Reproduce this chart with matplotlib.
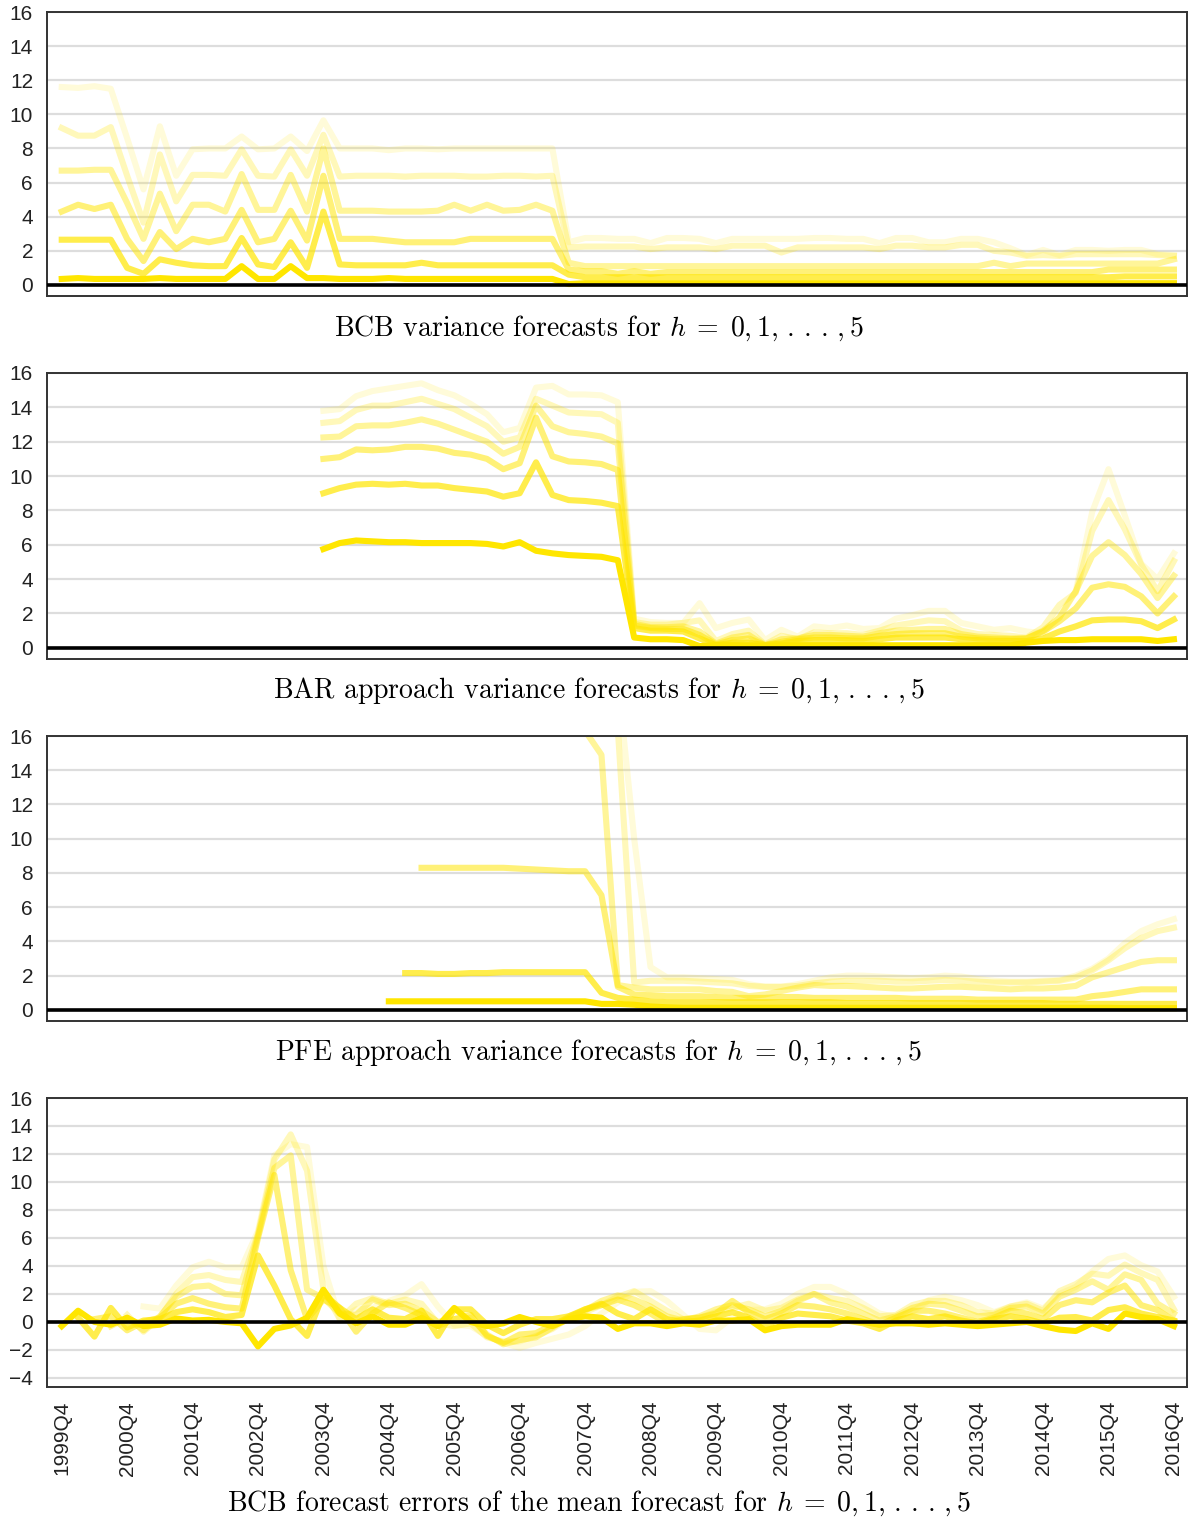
import matplotlib
matplotlib.use("Agg")
import matplotlib.pyplot as plt
import numpy as np

nan = np.nan

# quarters 1999Q4 .. 2016Q4 (69 points), ticks every fourth quarter
tick_labels = ["1999Q4", "2000Q4", "2001Q4", "2002Q4", "2003Q4", "2004Q4",
               "2005Q4", "2006Q4", "2007Q4", "2008Q4", "2009Q4", "2010Q4",
               "2011Q4", "2012Q4", "2013Q4", "2014Q4", "2015Q4", "2016Q4"]
n_q = 69

# ---- panel 1: BCB variance forecasts, h = 0..5
bcb_h0 = [0.35, 0.4, 0.35, 0.35, 0.35, 0.35, 0.4, 0.35, 0.35, 0.35,
          0.35, 1.1, 0.35, 0.35, 1.1, 0.4, 0.4, 0.35, 0.35, 0.35,
          0.4, 0.35, 0.35, 0.35, 0.35, 0.35, 0.35, 0.35, 0.35, 0.35,
          0.35, 0.05, 0.1, 0.1, 0.1, 0.1, 0.1, 0.1, 0.1, 0.1,
          0.1, 0.1, 0.1, 0.1, 0.1, 0.1, 0.1, 0.1, 0.1, 0.1,
          0.1, 0.1, 0.1, 0.1, 0.1, 0.1, 0.1, 0.1, 0.1, 0.1,
          0.1, 0.1, 0.1, 0.1, 0.1, 0.1, 0.1, 0.1, 0.1]
bcb_h1 = [2.65, 2.65, 2.65, 2.65, 1.0, 0.65, 1.5, 1.3, 1.15, 1.1,
          1.1, 2.75, 1.2, 1.05, 2.5, 1.0, 4.3, 1.2, 1.15, 1.15,
          1.15, 1.15, 1.3, 1.15, 1.15, 1.15, 1.15, 1.15, 1.15, 1.15,
          1.15, 0.6, 0.45, 0.45, 0.45, 0.45, 0.45, 0.45, 0.45, 0.45,
          0.45, 0.45, 0.45, 0.45, 0.45, 0.45, 0.45, 0.45, 0.45, 0.45,
          0.45, 0.45, 0.45, 0.45, 0.45, 0.45, 0.45, 0.45, 0.45, 0.45,
          0.45, 0.45, 0.45, 0.45, 0.45, 0.5, 0.5, 0.5, 0.5]
bcb_h2 = [4.3, 4.7, 4.45, 4.7, 2.7, 1.4, 3.1, 2.1, 2.7, 2.5,
          2.7, 4.4, 2.5, 2.7, 4.35, 2.6, 6.4, 2.7, 2.7, 2.7,
          2.6, 2.5, 2.5, 2.5, 2.5, 2.7, 2.7, 2.7, 2.7, 2.7,
          2.7, 0.9, 0.8, 0.8, 0.65, 0.8, 0.65, 0.75, 0.75, 0.75,
          0.75, 0.75, 0.75, 0.75, 0.75, 0.75, 0.75, 0.75, 0.75, 0.75,
          0.75, 0.75, 0.75, 0.75, 0.75, 0.75, 0.75, 0.75, 0.75, 0.75,
          0.75, 0.75, 0.75, 0.75, 0.9, 0.9, 0.9, 0.9, 0.9]
bcb_h3 = [6.7, 6.7, 6.75, 6.75, 4.8, 2.7, 5.35, 3.15, 4.7, 4.7,
          4.3, 6.5, 4.4, 4.4, 6.45, 4.3, 8.0, 4.35, 4.35, 4.35,
          4.3, 4.3, 4.3, 4.35, 4.7, 4.35, 4.7, 4.35, 4.4, 4.7,
          4.35, 1.3, 1.1, 1.1, 1.1, 1.1, 1.1, 1.1, 1.1, 1.1,
          1.1, 1.1, 1.1, 1.1, 1.1, 1.1, 1.1, 1.1, 1.1, 1.1,
          1.1, 1.1, 1.1, 1.1, 1.1, 1.1, 1.1, 1.3, 1.1, 1.25,
          1.25, 1.25, 1.25, 1.25, 1.25, 1.25, 1.25, 1.25, 1.5]
bcb_h4 = [9.2, 8.75, 8.75, 9.25, 6.4, 3.65, 7.65, 4.9, 6.45, 6.45,
          6.4, 7.95, 6.4, 6.35, 7.95, 6.4, 8.8, 6.35, 6.4, 6.4,
          6.4, 6.35, 6.4, 6.4, 6.4, 6.35, 6.35, 6.4, 6.4, 6.35,
          6.4, 2.2, 2.25, 2.25, 2.25, 2.25, 2.1, 2.2, 2.2, 2.2,
          2.1, 2.3, 2.3, 2.3, 1.9, 2.2, 2.2, 2.2, 2.2, 2.2,
          2.1, 2.3, 2.3, 2.2, 2.2, 2.35, 2.35, 2.0, 1.9, 1.7,
          1.75, 1.7, 1.8, 1.8, 1.8, 1.8, 1.8, 1.75, 1.7]
bcb_h5 = [11.6, 11.55, 11.65, 11.5, 8.6, 5.6, 9.3, 6.4, 7.95, 8.0,
          8.0, 8.7, 7.95, 8.0, 8.7, 7.85, 9.65, 8.0, 8.0, 8.0,
          7.9, 8.0, 8.0, 7.95, 8.0, 8.0, 8.0, 8.0, 8.0, 8.0,
          8.0, 2.5, 2.75, 2.75, 2.7, 2.7, 2.45, 2.75, 2.75, 2.7,
          2.45, 2.7, 2.7, 2.7, 2.7, 2.7, 2.75, 2.75, 2.7, 2.7,
          2.45, 2.75, 2.75, 2.5, 2.5, 2.7, 2.7, 2.5, 2.15, 1.75,
          2.05, 1.75, 2.05, 2.05, 2.0, 2.05, 2.05, 1.8, 1.75]

# ---- panel 2: BAR approach variance forecasts (start 2003Q4)
bar_h0 = [nan] * 16 + [
    5.75, 6.1, 6.25, 6.2, 6.15, 6.15, 6.1, 6.1, 6.1, 6.1,
    6.05, 5.9, 6.15, 5.65, 5.5, 5.4, 5.35, 5.3, 5.1, 0.6,
    0.5, 0.5, 0.45, 0.1, 0.15, 0.15, 0.15, 0.1, 0.15, 0.15,
    0.15, 0.15, 0.15, 0.15, 0.15, 0.15, 0.15, 0.15, 0.15, 0.15,
    0.15, 0.15, 0.15, 0.3, 0.4, 0.45, 0.45, 0.5, 0.5, 0.5,
    0.5, 0.4, 0.5]
bar_h1 = [nan] * 16 + [
    9.0, 9.3, 9.5, 9.55, 9.5, 9.55, 9.45, 9.45, 9.3, 9.2,
    9.1, 8.8, 9.0, 10.8, 8.9, 8.6, 8.55, 8.45, 8.25, 1.15,
    1.0, 1.0, 0.95, 0.55, 0.15, 0.3, 0.3, 0.15, 0.25, 0.4,
    0.45, 0.45, 0.45, 0.4, 0.5, 0.6, 0.6, 0.6, 0.6, 0.5,
    0.45, 0.4, 0.4, 0.4, 0.55, 0.95, 1.25, 1.6, 1.65, 1.65,
    1.55, 1.15, 1.65]
bar_h2 = [nan] * 16 + [
    11.0, 11.1, 11.55, 11.5, 11.55, 11.7, 11.7, 11.6, 11.35, 11.25,
    11.0, 10.4, 10.75, 13.4, 11.15, 10.85, 10.8, 10.7, 10.35, 1.3,
    1.15, 1.1, 1.1, 0.75, 0.2, 0.45, 0.55, 0.15, 0.35, 0.5,
    0.6, 0.6, 0.55, 0.55, 0.7, 0.8, 0.85, 0.85, 0.85, 0.65,
    0.55, 0.5, 0.5, 0.55, 0.95, 1.55, 2.3, 3.5, 3.7, 3.55,
    3.0, 2.0, 3.0]
bar_h3 = [nan] * 16 + [
    12.25, 12.3, 12.9, 12.95, 12.95, 13.1, 13.3, 13.05, 12.7, 12.35,
    12.0, 11.3, 11.7, 14.1, 12.9, 12.55, 12.45, 12.3, 11.9, 1.4,
    1.2, 1.2, 1.25, 0.95, 0.25, 0.6, 0.75, 0.15, 0.5, 0.55,
    0.75, 0.75, 0.7, 0.65, 0.85, 1.0, 1.05, 1.1, 1.1, 0.8,
    0.65, 0.6, 0.55, 0.55, 1.0, 1.75, 3.3, 5.35, 6.15, 5.4,
    4.3, 2.9, 4.2]
bar_h4 = [nan] * 16 + [
    13.1, 13.2, 13.85, 14.1, 14.1, 14.3, 14.5, 14.2, 13.9, 13.4,
    12.9, 12.0, 12.25, 14.5, 14.1, 13.7, 13.65, 13.6, 13.1, 1.5,
    1.35, 1.35, 1.45, 1.6, 0.4, 0.8, 1.0, 0.2, 0.7, 0.5,
    0.9, 0.85, 0.85, 0.75, 1.0, 1.3, 1.45, 1.6, 1.55, 1.0,
    0.8, 0.75, 0.7, 0.6, 1.2, 2.5, 3.2, 6.8, 8.6, 6.9,
    4.85, 3.3, 5.05]
bar_h5 = [nan] * 16 + [
    13.8, 13.9, 14.65, 14.95, 15.1, 15.25, 15.4, 15.0, 14.7, 14.2,
    13.6, 12.55, 12.8, 15.15, 15.25, 14.75, 14.75, 14.7, 14.3, 1.7,
    1.5, 1.45, 1.45, 2.6, 1.15, 1.45, 1.65, 0.45, 1.05, 0.65,
    1.25, 1.15, 1.3, 1.1, 1.15, 1.7, 1.9, 2.15, 2.15, 1.45,
    1.25, 1.05, 1.15, 0.95, 0.85, 1.9, 3.3, 7.9, 10.4, 7.7,
    4.9, 4.0, 5.5]

# ---- panel 3: PFE approach variance forecasts
pfe_h0 = [nan] * 20 + [
    0.5, 0.5, 0.5, 0.5, 0.5, 0.5, 0.5, 0.5, 0.5, 0.5,
    0.5, 0.5, 0.5, 0.35, 0.35, 0.3, 0.2, 0.15, 0.12, 0.12,
    0.12, 0.12, 0.12, 0.12, 0.12, 0.12, 0.12, 0.12, 0.12, 0.12,
    0.12, 0.12, 0.12, 0.12, 0.12, 0.12, 0.12, 0.12, 0.12, 0.12,
    0.12, 0.12, 0.12, 0.12, 0.12, 0.1, 0.1, 0.1, 0.1]
pfe_h1 = [nan] * 21 + [
    2.15, 2.15, 2.1, 2.1, 2.15, 2.15, 2.2, 2.2, 2.2, 2.2,
    2.2, 2.2, 1.0, 0.7, 0.6, 0.5, 0.45, 0.45, 0.45, 0.45,
    0.45, 0.45, 0.45, 0.45, 0.45, 0.45, 0.45, 0.4, 0.4, 0.4,
    0.4, 0.4, 0.4, 0.4, 0.4, 0.4, 0.4, 0.4, 0.4, 0.4,
    0.35, 0.35, 0.35, 0.35, 0.35, 0.35, 0.35, 0.35]
pfe_h2 = [nan] * 22 + [
    8.3, 8.3, 8.3, 8.3, 8.3, 8.3, 8.25, 8.2, 8.15, 8.1,
    8.1, 6.7, 1.35, 0.9, 0.85, 0.8, 0.8, 0.8, 0.75, 0.7,
    0.7, 0.7, 0.75, 0.75, 0.7, 0.7, 0.7, 0.7, 0.7, 0.7,
    0.65, 0.65, 0.65, 0.65, 0.6, 0.6, 0.6, 0.6, 0.6, 0.6,
    0.6, 0.8, 0.9, 1.05, 1.2, 1.2, 1.2]
pfe_h3 = [nan] * 32 + [
    16.3, 14.9, 1.45, 1.3, 1.2, 1.2, 1.2, 1.2, 1.1, 1.05,
    0.8, 0.9, 1.1, 1.3, 1.45, 1.4, 1.4, 1.35, 1.3, 1.25,
    1.25, 1.3, 1.35, 1.35, 1.3, 1.25, 1.2, 1.25, 1.25, 1.3,
    1.4, 1.9, 2.2, 2.5, 2.8, 2.9, 2.9]
pfe_h4 = [nan] * 34 + [
    16.4, 1.6, 1.7, 1.7, 1.7, 1.65, 1.6, 1.55, 1.4, 1.35,
    1.35, 1.4, 1.55, 1.65, 1.7, 1.7, 1.7, 1.65, 1.65, 1.7,
    1.75, 1.7, 1.65, 1.6, 1.6, 1.6, 1.65, 1.7, 1.9, 2.3,
    2.9, 3.6, 4.2, 4.6, 4.8]
pfe_h5 = [nan] * 34 + [
    19.3, 10.0, 2.5, 1.9, 1.9, 1.85, 1.8, 1.75, 1.5, 1.35,
    1.35, 1.5, 1.7, 1.9, 2.0, 2.0, 1.95, 1.9, 1.85, 1.9,
    2.0, 1.95, 1.8, 1.7, 1.65, 1.65, 1.7, 1.75, 2.0, 2.4,
    3.0, 3.9, 4.6, 5.0, 5.3]

# ---- panel 4: BCB forecast errors of the mean forecast
fe_h0 = [-0.3, 0.8, 0.0, -0.2, 0.3, -0.3, -0.2, 0.25, 0.1, 0.15,
         0.0, -0.1, -1.75, -0.5, -0.25, 0.3, 2.3, 0.6, -0.1, 0.4,
         -0.2, -0.2, 0.3, -0.3, 1.0, 0.0, -0.3, -0.1, 0.35, 0.0,
         -0.3, 0.2, 0.4, 0.3, -0.5, -0.1, -0.1, -0.3, -0.1, -0.2,
         0.1, 0.1, 0.2, -0.6, -0.3, -0.2, -0.2, -0.2, 0.2, 0.0,
         -0.2, -0.1, -0.1, -0.2, -0.1, -0.2, -0.3, -0.2, -0.1, 0.0,
         -0.3, -0.55, -0.65, -0.1, -0.5, 0.6, 0.35, 0.2, -0.3]
fe_h1 = [nan, 0.3, -1.05, 1.0, -0.4, 0.1, 0.2, 0.7, 0.9, 0.7,
         0.35, 0.5, 4.75, 2.6, 0.2, -1.0, 2.0, 1.0, 0.2, 0.9,
         0.3, 0.2, 0.8, -1.0, 0.9, 0.9, -0.2, -0.8, -0.2, 0.2,
         0.2, 0.4, 0.9, 1.3, 0.6, 0.2, 0.9, 0.2, 0.0, 0.1,
         0.4, 0.7, 0.3, -0.3, 0.3, 0.6, 0.5, 0.4, 0.1, -0.1,
         -0.5, 0.1, 0.4, 0.2, 0.4, 0.1, -0.1, 0.2, 0.4, 0.2,
         -0.1, 0.3, 0.35, 0.1, 0.85, 1.05, 0.6, 0.35, 0.1]
fe_h2 = [nan, nan, 0.2, 0.4, -0.6, 0.0, 0.3, 1.3, 1.7, 1.3,
         1.05, 0.95, 6.0, 10.5, 3.7, 0.2, 1.6, 1.0, -0.7, 0.6,
         1.4, 1.0, 0.5, -0.3, 0.2, 0.5, -1.0, -1.5, -0.9, -0.8,
         -0.2, 0.3, 0.9, 1.2, 1.6, 1.2, 0.6, -0.1, 0.2, 0.3,
         0.6, 1.5, 0.7, 0.2, 0.6, 1.2, 1.1, 0.9, 0.6, 0.2,
         -0.2, 0.3, 0.8, 0.8, 0.6, 0.3, 0.0, 0.3, 0.8, 0.6,
         0.2, 1.2, 1.55, 1.4, 2.1, 2.6, 1.2, 0.85, 0.1]
fe_h3 = [nan, nan, nan, -0.3, 0.3, -0.6, 0.4, 1.8, 2.5, 2.6,
         2.0, 1.9, 6.2, 11.0, 11.9, 2.3, 1.7, 0.6, 0.5, 1.6,
         1.2, 1.3, 0.8, 0.0, 0.2, 0.3, -0.9, -1.6, -1.3, -1.1,
         -0.4, 0.4, 0.8, 1.5, 1.9, 1.6, 1.1, 0.4, 0.1, 0.4,
         0.9, 1.2, 0.9, 0.4, 0.8, 1.5, 2.0, 1.4, 1.1, 0.6,
         0.1, 0.4, 1.0, 1.3, 1.2, 0.8, 0.4, 0.5, 1.0, 1.1,
         0.6, 1.8, 2.3, 2.9, 2.3, 3.4, 3.0, 1.3, 0.6]
fe_h4 = [nan, nan, nan, nan, 0.5, -0.7, 0.3, 2.0, 3.2, 3.35,
         3.0, 2.85, 6.3, 11.6, 13.4, 10.8, 2.3, 0.2, 1.3, 1.7,
         1.3, 1.6, 1.3, -0.1, -0.3, -0.1, -1.1, -1.4, -1.4, -1.0,
         -0.5, 0.3, 0.7, 1.2, 1.8, 2.2, 1.5, 0.8, 0.2, 0.3,
         0.7, 1.0, 1.3, 0.8, 1.0, 1.6, 2.0, 1.7, 1.5, 1.0,
         0.4, 0.5, 1.2, 1.5, 1.5, 1.2, 0.7, 0.6, 1.1, 1.3,
         0.8, 2.2, 2.7, 3.45, 3.3, 4.1, 3.5, 3.0, 0.9]
fe_h5 = [nan, nan, nan, nan, nan, 1.1, 0.95, 2.6, 3.9, 4.3,
         3.9, 3.9, 6.5, 11.9, 12.7, 12.5, 4.0, 0.2, 0.9, 1.0,
         1.5, 1.9, 2.7, 1.1, -0.2, -0.3, -1.0, -1.5, -1.85, -1.5,
         -1.2, -0.9, -0.3, 0.6, 1.4, 2.15, 2.2, 1.5, 0.5, -0.5,
         -0.6, 0.3, 0.85, 0.9, 1.3, 2.0, 2.5, 2.5, 2.0, 1.3,
         0.6, 0.35, 0.7, 1.55, 1.8, 1.55, 1.2, 0.7, 1.1, 1.4,
         0.95, 2.0, 2.5, 3.6, 4.5, 4.75, 4.05, 3.6, 1.8]

hs = r"$h\;=\;0,1,\,.\,.\,.\,,5$"
panels = [
    ([bcb_h0, bcb_h1, bcb_h2, bcb_h3, bcb_h4, bcb_h5],
     "BCB variance forecasts for " + hs, (-0.65, 16)),
    ([bar_h0, bar_h1, bar_h2, bar_h3, bar_h4, bar_h5],
     "BAR approach variance forecasts for " + hs, (-0.65, 16)),
    ([pfe_h0, pfe_h1, pfe_h2, pfe_h3, pfe_h4, pfe_h5],
     "PFE approach variance forecasts for " + hs, (-0.65, 16)),
    ([fe_h0, fe_h1, fe_h2, fe_h3, fe_h4, fe_h5],
     "BCB forecast errors of the mean forecast for " + hs, (-4.65, 16)),
]

line_color = "#FFE600"
alphas = [1.0, 0.7, 0.53, 0.4, 0.27, 0.15]

plt.rcParams["font.family"] = ["Liberation Sans", "DejaVu Sans"]
plt.rcParams["mathtext.fontset"] = "cm"

W, H = 1190, 1519
fig = plt.figure(figsize=(W / 100, H / 100), dpi=100)

# axes boxes in pixels: (top, bottom)
boxes = [(12, 296), (373, 659), (736, 1021), (1098, 1387)]
title_y = [328, 690, 1052, 1503]
left_px, right_px = 47, 1187

x = np.arange(n_q)
for i, (series, title, ylim) in enumerate(panels):
    top, bot = boxes[i]
    ax = fig.add_axes([left_px / W, 1 - bot / H, (right_px - left_px) / W, (bot - top) / H])
    for k, s in enumerate(series):
        assert len(s) == n_q, (i, k, len(s))
        ax.plot(x, s, color=line_color, alpha=alphas[k], lw=4.4, zorder=2)
    ax.axhline(0, color="black", lw=2.6, zorder=3)
    ax.set_xlim(-0.9, 68.8)
    ax.set_ylim(*ylim)
    ax.set_yticks(range(int(np.ceil(ylim[0] / 2)) * 2, 17, 2))
    ax.yaxis.grid(True, color="#dddddd", lw=1.6, zorder=0)
    ax.set_axisbelow(True)
    for sp in ax.spines.values():
        sp.set_color("#333333")
        sp.set_linewidth(1.4)
    ax.tick_params(axis="y", length=0, labelsize=15, pad=10, labelcolor="#222222")
    if i < 3:
        ax.set_xticks([])
    else:
        ax.set_xticks(np.arange(0, n_q, 4))
        ax.set_xticklabels(tick_labels, rotation=90)
        ax.tick_params(axis="x", length=0, labelsize=15, pad=10, labelcolor="#222222")
    fig.text(0.503, 1 - title_y[i] / H, title, ha="center", va="center",
             fontsize=20, family="cmr10")

fig.savefig("out.png", dpi=100)
